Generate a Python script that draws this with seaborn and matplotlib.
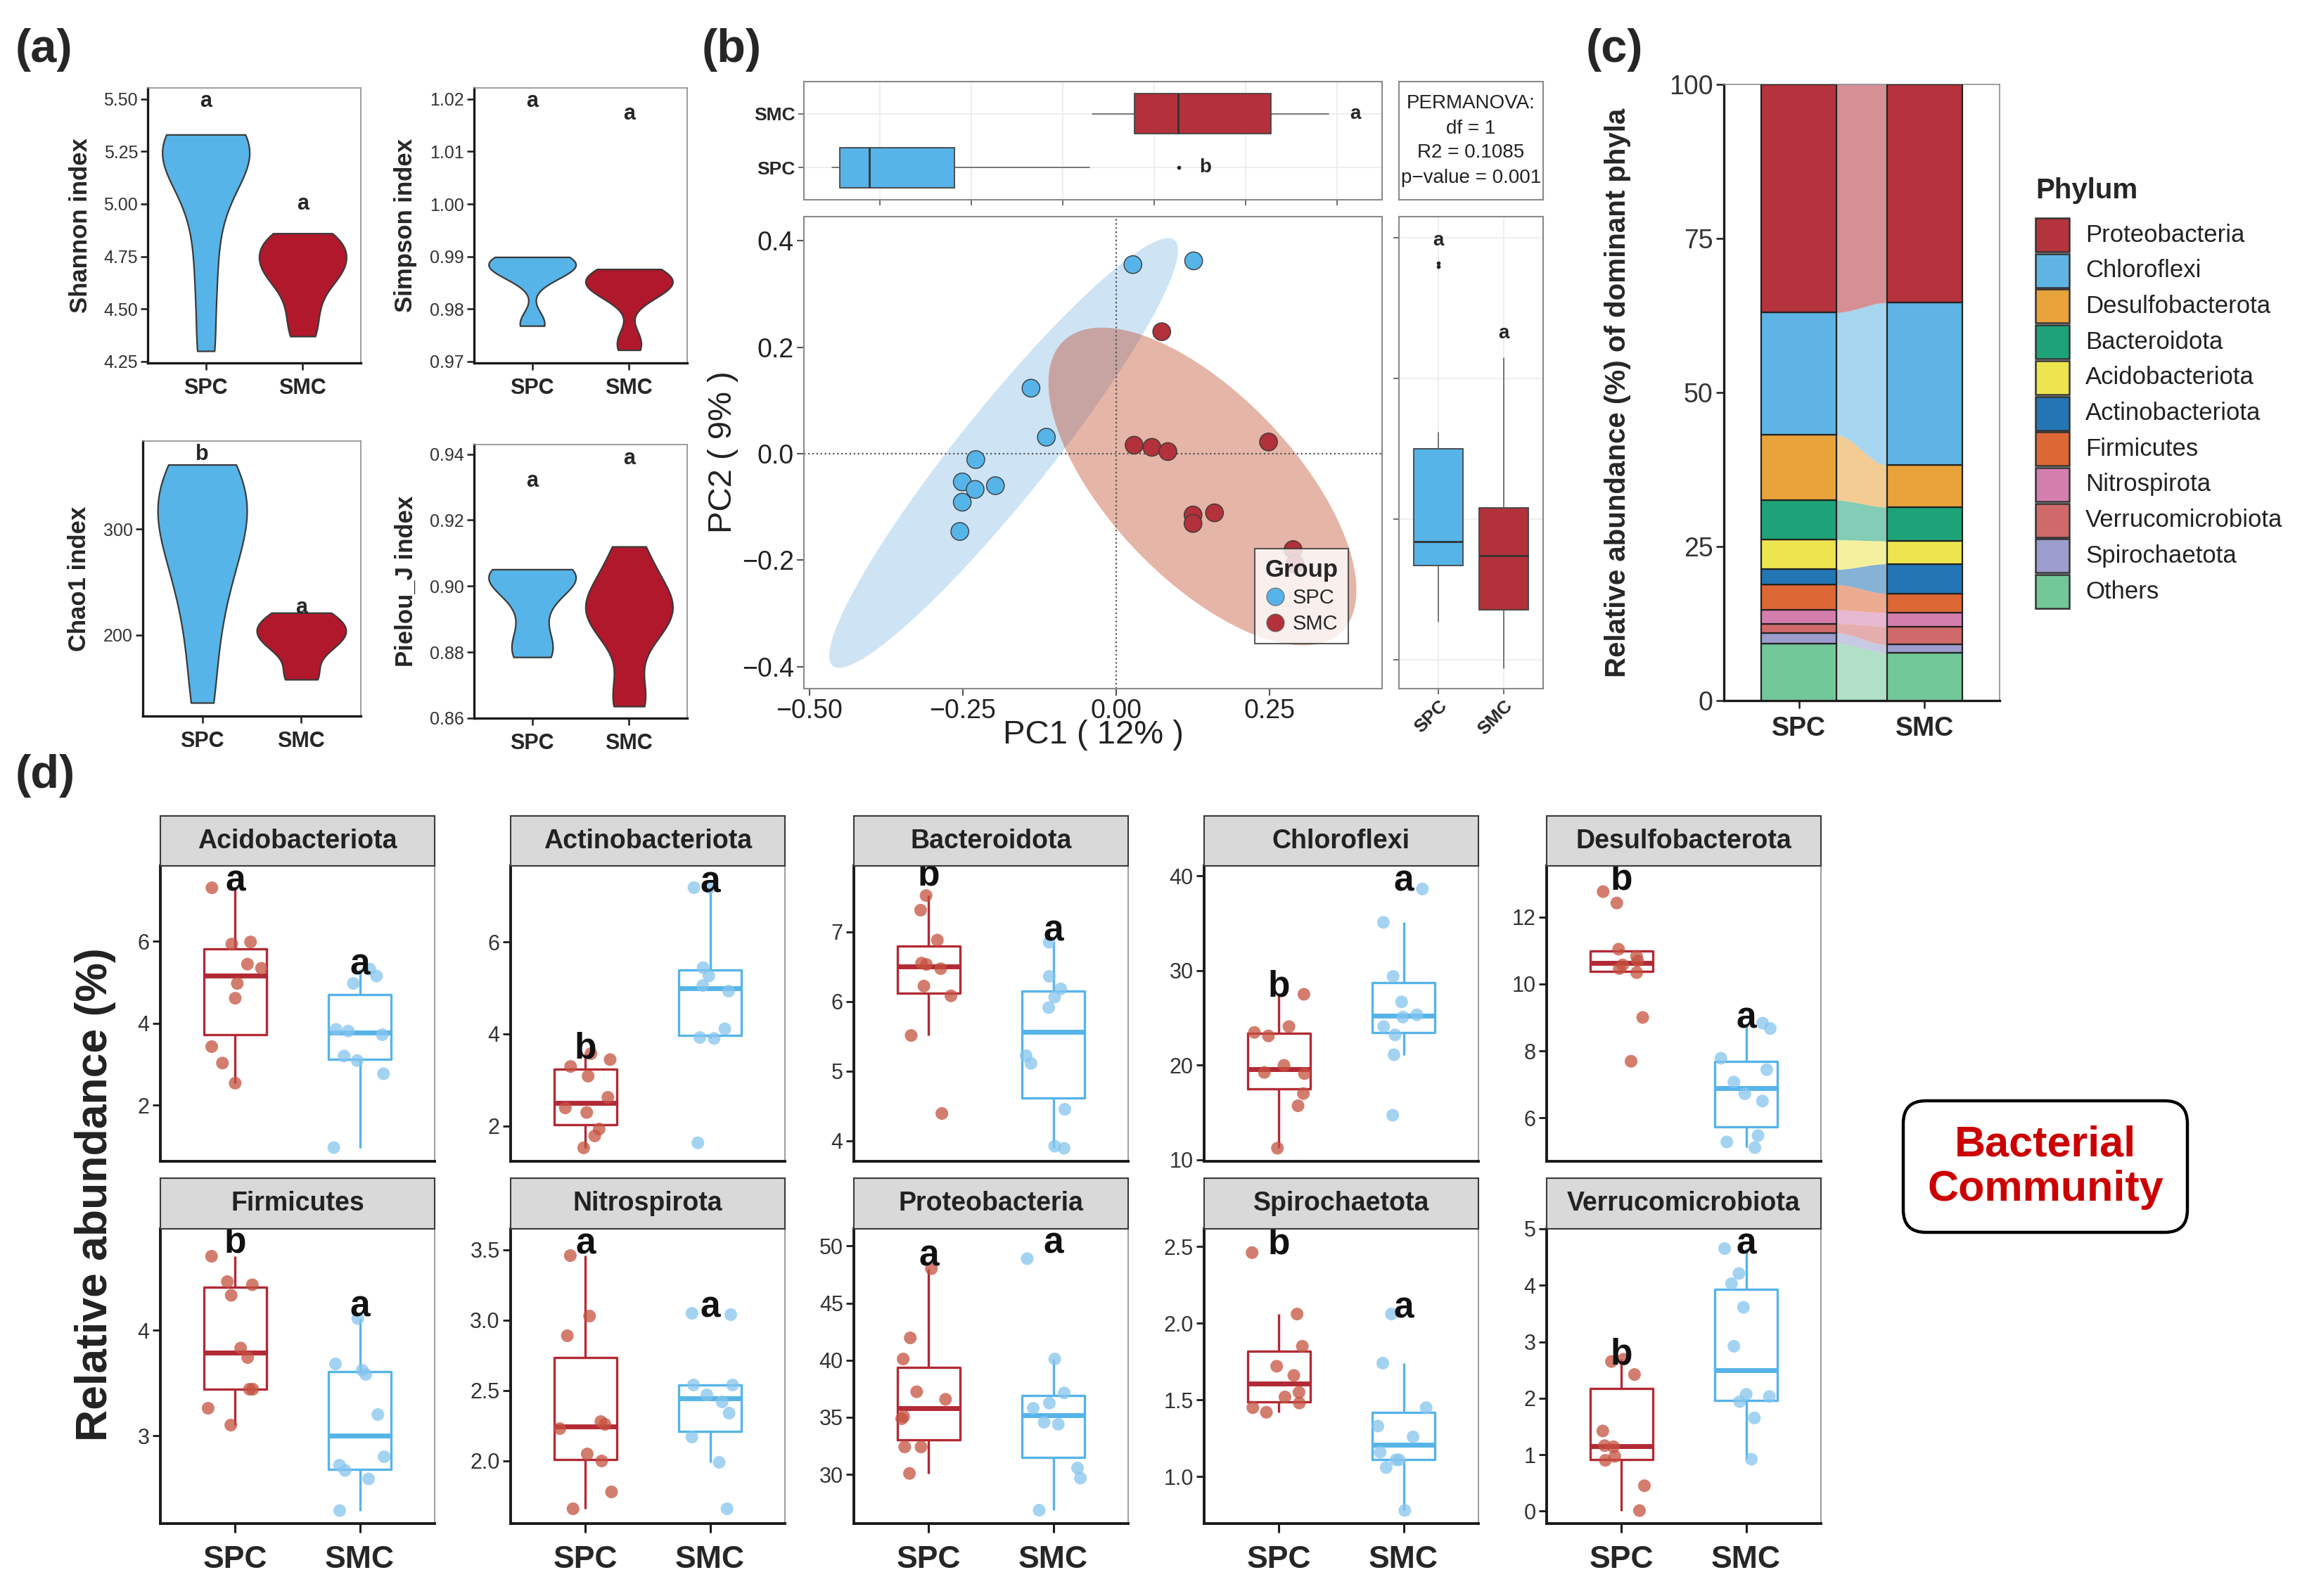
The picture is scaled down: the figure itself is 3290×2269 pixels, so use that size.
import numpy as np
import pandas as pd
import matplotlib
matplotlib.use("Agg")
import matplotlib.pyplot as plt
import seaborn as sns
from matplotlib.patches import Rectangle, FancyBboxPatch
from matplotlib.lines import Line2D

# ------------------------------------------ DATA ------------------------------------------------#
groups = ["SPC", "SMC"]

# (a) alpha diversity, one value per sample
shannon_spc = [5.33, 5.32, 5.30, 5.27, 5.22, 5.15, 5.05, 4.85, 4.60, 4.30]
shannon_smc = [4.86, 4.83, 4.80, 4.75, 4.72, 4.68, 4.65, 4.58, 4.48, 4.37]
simpson_spc = [0.9899, 0.9896, 0.9892, 0.9888, 0.9884, 0.9878, 0.9870, 0.9860, 0.9776, 0.9768]
simpson_smc = [0.9876, 0.9870, 0.9862, 0.9855, 0.9848, 0.9842, 0.9835, 0.9822, 0.9745, 0.9722]
chao1_spc = [361, 350, 338, 324, 308, 290, 268, 240, 195, 136]
chao1_smc = [221, 217, 212, 206, 201, 197, 192, 186, 163, 158]
pielou_spc = [0.9051, 0.9046, 0.9040, 0.9030, 0.9015, 0.8990, 0.8930, 0.8850, 0.8800, 0.8785]
pielou_smc = [0.9120, 0.9050, 0.8990, 0.8955, 0.8935, 0.8915, 0.8885, 0.8840, 0.8680, 0.8636]
shannon_letters = [("a", 5.489), ("a", 5.00)]
simpson_letters = [("a", 1.0195), ("a", 1.0171)]
chao1_letters = [("b", 371), ("a", 226)]
pielou_letters = [("a", 0.9318), ("a", 0.9386)]

# (b) PCoA scores
pc1_spc = [0.027, 0.126, -0.139, -0.114, -0.229, -0.251, -0.230, -0.197, -0.251, -0.255]
pc2_spc = [0.355, 0.362, 0.123, 0.031, -0.011, -0.053, -0.067, -0.060, -0.091, -0.146]
pc1_smc = [0.074, 0.029, 0.058, 0.084, 0.248, 0.125, 0.125, 0.160, 0.288, 0.291]
pc2_smc = [0.229, 0.016, 0.012, 0.004, 0.022, -0.115, -0.131, -0.111, -0.180, -0.207]
# marginal box plots (q1, median, q3, whisker low, whisker high, outliers)
top_box_spc = [-0.487, -0.422, -0.237, -0.504, 0.058, [0.254]]
top_box_smc = [0.157, 0.253, 0.455, 0.064, 0.582, []]
top_letters = [("b", 0.312), ("a", 0.640)]
side_box_spc = [-0.0658, -0.0319, 0.1003, -0.1458, 0.1234, [0.3593, 0.3640]]
side_box_smc = [-0.1288, -0.0522, 0.0163, -0.2122, 0.2292, []]
side_letters = [("a", 0.3966), ("a", 0.2644)]
permanova_text = "PERMANOVA:\ndf = 1\nR2 = 0.1085\np\u2212value = 0.001"

# (c) mean relative abundance of dominant phyla (%)
phyla = ["Proteobacteria", "Chloroflexi", "Desulfobacterota", "Bacteroidota", "Acidobacteriota",
         "Actinobacteriota", "Firmicutes", "Nitrospirota", "Verrucomicrobiota", "Spirochaetota", "Others"]
phyla_colors = ["#B5333C", "#5EB5E5", "#E8A33A", "#1EA378", "#EDE54F", "#2376B4",
                "#DD6735", "#D47EAE", "#D06A6A", "#9C9DCD", "#73C89A"]
abund_spc = [37.0, 19.9, 10.6, 6.4, 4.8, 2.5, 4.1, 2.2, 1.5, 1.7, 9.3]
abund_smc = [35.4, 26.4, 6.8, 5.5, 3.7, 4.8, 3.1, 2.3, 2.9, 1.3, 7.8]

# (d) per-sample relative abundance (%) of each phylum
acido_spc = [7.30, 5.98, 5.93, 5.44, 5.34, 4.97, 4.61, 3.43, 3.03, 2.54]
acido_smc = [5.32, 5.15, 4.97, 3.85, 3.81, 3.72, 3.20, 3.09, 2.77, 0.97]
actino_spc = [3.57, 3.44, 3.29, 3.08, 2.62, 2.39, 2.29, 1.93, 1.78, 1.52]
actino_smc = [7.18, 7.18, 5.44, 5.26, 5.05, 4.93, 4.11, 3.92, 3.90, 1.63]
bactero_spc = [7.52, 7.31, 6.88, 6.55, 6.53, 6.47, 6.22, 6.08, 5.51, 4.39]
bactero_smc = [6.85, 6.36, 6.18, 6.06, 5.91, 5.22, 5.11, 4.45, 3.92, 3.89]
chloro_spc = [27.50, 24.09, 23.47, 23.10, 19.99, 19.24, 19.12, 17.01, 15.72, 11.24]
chloro_smc = [38.63, 35.10, 29.39, 26.70, 25.33, 25.09, 24.09, 23.22, 21.11, 14.72]
desulfo_spc = [12.76, 12.42, 11.04, 10.83, 10.69, 10.57, 10.46, 10.34, 9.00, 7.69]
desulfo_smc = [8.83, 8.67, 7.78, 7.44, 7.07, 6.72, 6.50, 5.47, 5.28, 5.11]
firmi_spc = [4.70, 4.46, 4.43, 4.33, 3.83, 3.74, 3.44, 3.44, 3.26, 3.10]
firmi_smc = [4.11, 3.68, 3.62, 3.58, 3.20, 2.80, 2.72, 2.67, 2.59, 2.29]
nitro_spc = [3.46, 3.03, 2.89, 2.28, 2.26, 2.23, 2.05, 2.00, 1.78, 1.66]
nitro_smc = [3.05, 3.04, 2.54, 2.54, 2.47, 2.42, 2.34, 2.17, 1.99, 1.66]
proteo_spc = [48.01, 41.95, 40.10, 37.23, 36.57, 35.07, 34.87, 32.40, 32.40, 30.08]
proteo_smc = [48.89, 40.10, 37.13, 36.24, 35.79, 34.56, 34.39, 30.55, 29.67, 26.86]
spiro_spc = [2.46, 2.06, 1.85, 1.72, 1.66, 1.55, 1.52, 1.48, 1.45, 1.42]
spiro_smc = [2.06, 1.74, 1.45, 1.33, 1.26, 1.16, 1.11, 1.11, 1.06, 0.78]
verruco_spc = [2.69, 2.65, 2.42, 1.42, 1.16, 1.14, 0.97, 0.90, 0.45, 0.01]
verruco_smc = [4.65, 4.21, 4.03, 3.61, 2.92, 2.07, 2.03, 1.94, 1.65, 0.92]

d_names = ["Acidobacteriota", "Actinobacteriota", "Bacteroidota", "Chloroflexi", "Desulfobacterota",
           "Firmicutes", "Nitrospirota", "Proteobacteria", "Spirochaetota", "Verrucomicrobiota"]
d_letters = [[("a", 7.45), ("a", 5.41)], [("b", 3.67), ("a", 7.28)], [("b", 7.80), ("a", 7.01)],
             [("b", 28.3), ("a", 39.4)], [("b", 13.11), ("a", 8.97)], [("b", 4.83), ("a", 4.22)],
             [("a", 3.54), ("a", 3.09)], [("a", 49.1), ("a", 50.2)], [("b", 2.515), ("a", 2.095)],
             [("b", 2.775), ("a", 4.73)]]
d_ticks = [[2, 4, 6], [2, 4, 6], [4, 5, 6, 7], [10, 20, 30, 40], [6, 8, 10, 12],
           [3, 4], [2.0, 2.5, 3.0, 3.5], [30, 35, 40, 45, 50], [1.0, 1.5, 2.0, 2.5], [0, 1, 2, 3, 4, 5]]
d_ylims = [(0.636, 7.834), (1.228, 7.652), (3.703, 7.946), (9.85, 41.07), (4.70, 13.53),
           (2.167, 4.96), (1.555, 3.65), (25.69, 51.5), (0.695, 2.615), (-0.22, 5.0)]

# ------------------------------------------ STYLE ------------------------------------------------#
sns.set_style("ticks")
plt.rcParams["font.family"] = ["Liberation Sans", "DejaVu Sans"]
plt.rcParams["axes.unicode_minus"] = True

BLUE = "#56B4E9"
RED = "#B2182B"
group_pal = {"SPC": "#56B4E9", "SMC": "#B2313A"}
box_pal = {"SPC": "#B22A35", "SMC": "#56B4E9"}
point_pal = {"SPC": "#C5513F", "SMC": "#86C5EE"}

W, H = 3291, 2269
fig = plt.figure(figsize=(W / 100, H / 100), dpi=100)


def add_ax(x0, y0, x1, y1):
    return fig.add_axes([x0 / W, 1 - y1 / H, (x1 - x0) / W, (y1 - y0) / H])


def ftext(x, y, s, **kw):
    return fig.text(x / W, 1 - y / H, s, **kw)


def classic_spines(ax, lw=2.4):
    for side in ["top", "right"]:
        ax.spines[side].set_color("#8c8c8c")
        ax.spines[side].set_linewidth(1.2)
    for side in ["left", "bottom"]:
        ax.spines[side].set_color("#1a1a1a")
        ax.spines[side].set_linewidth(lw)


def bw_spines(ax):
    for sp in ax.spines.values():
        sp.set_color("#8a8a8a")
        sp.set_linewidth(1.5)


def cov_trob(xy, nu=5, maxit=25, tol=0.01):
    # robust t covariance (as used by ggplot2 stat_ellipse)
    n, p = xy.shape
    loc = xy.mean(axis=0)
    w = np.ones(n)
    X = xy - loc
    for _ in range(maxit):
        w0 = w
        X = xy - loc
        _, d, vt = np.linalg.svd(np.sqrt(w / w.sum())[:, None] * X, full_matrices=False)
        wX = X @ vt.T @ np.diag(1 / d)
        Q = (wX ** 2).sum(axis=1)
        w = (nu + p) / (nu + Q)
        loc = (w[:, None] * xy).sum(axis=0) / w.sum()
        if np.all(np.abs(w - w0) < tol):
            break
    sx = np.sqrt(w)[:, None] * X
    return loc, sx.T @ sx / n


def ellipse_points(x, y, level=0.95, seg=240):
    xy = np.column_stack([x, y])
    center, shape = cov_trob(xy)
    dfd = len(xy) - 1
    fq = dfd / 2 * ((1 - level) ** (-2 / dfd) - 1)
    radius = np.sqrt(2 * fq)
    chol = np.linalg.cholesky(shape).T
    ang = np.linspace(0, 2 * np.pi, seg)
    circ = np.column_stack([np.cos(ang), np.sin(ang)])
    return center + radius * circ @ chol


def box_stats(vals, label):
    q1, med, q3, lo, hi, fl = vals
    return {"q1": q1, "med": med, "q3": q3, "whislo": lo, "whishi": hi, "fliers": fl, "label": label}


# ------------------------------------------ (a) ------------------------------------------------#
alpha_panels = [
    ("Shannon index", shannon_spc, shannon_smc, shannon_letters, (4.243, 5.552),
     [4.25, 4.50, 4.75, 5.00, 5.25, 5.50], "{:.2f}", (210, 125, 513, 516), 115, 0.75),
    ("Simpson index", simpson_spc, simpson_smc, simpson_letters, (0.96973, 1.0221),
     [0.97, 0.98, 0.99, 1.00, 1.01, 1.02], "{:.2f}", (674, 125, 977, 516), 577, 0.75),
    ("Chao1 index", chao1_spc, chao1_smc, chao1_letters, (123.4, 383.3),
     [200, 300], "{:.0f}", (203, 627, 513, 1018), 113, 0.95),
    ("Pielou_J index", pielou_spc, pielou_smc, pielou_letters, (0.8600, 0.9429),
     [0.86, 0.88, 0.90, 0.92, 0.94], "{:.2f}", (674, 632, 977, 1021), 577, 0.8),
]
violin_pal = {"SPC": BLUE, "SMC": RED}
for name, spc, smc, letters, ylim, ticks, fmt, box, ylab_x, bwa in alpha_panels:
    ax = add_ax(*box)
    df = pd.DataFrame({"group": ["SPC"] * len(spc) + ["SMC"] * len(smc), "value": spc + smc})
    sns.violinplot(data=df, x="group", y="value", hue="group", order=groups, hue_order=groups,
                   palette=violin_pal, saturation=1, cut=0, density_norm="width", width=0.9,
                   inner=None, linewidth=1.6, linecolor="#3a3a3a", bw_adjust=bwa, legend=False, ax=ax)
    for i, (lt, ly) in enumerate(letters):
        ax.text(i, ly, lt, ha="center", va="center", fontsize=22, fontweight="bold")
    ax.set_xlim(-0.6, 1.6)
    ax.set_ylim(*ylim)
    ax.set_yticks(ticks, labels=[fmt.format(t) for t in ticks])
    ax.set_xlabel("")
    ax.set_ylabel("")
    ax.tick_params(axis="y", length=7, width=1.8, color="#1a1a1a", labelsize=18, labelcolor="#333333", pad=3)
    ax.tick_params(axis="x", length=7, width=1.8, color="#1a1a1a", labelsize=22, pad=8)
    for lbl in ax.get_xticklabels():
        lbl.set_fontweight("bold")
    classic_spines(ax)
    ftext(ylab_x, (box[1] + box[3]) / 2, name, rotation=90, ha="center", va="center",
          fontsize=25, fontweight="bold")

# ------------------------------------------ (b) ------------------------------------------------#
ax_sc = add_ax(1143, 308, 1965, 979)
el_spc = ellipse_points(pc1_spc, pc2_spc)
el_smc = ellipse_points(pc1_smc, pc2_smc)
ax_sc.fill(el_spc[:, 0], el_spc[:, 1], color="#5FA8E1", alpha=0.3, lw=0, zorder=1)
ax_sc.fill(el_smc[:, 0], el_smc[:, 1], color="#BE4623", alpha=0.4, lw=0, zorder=1)
ax_sc.axhline(0, color="#555555", ls=":", lw=1.6, zorder=2)
ax_sc.axvline(0, color="#555555", ls=":", lw=1.6, zorder=2)
pc_df = pd.DataFrame({"PC1": pc1_spc + pc1_smc, "PC2": pc2_spc + pc2_smc,
                      "Group": ["SPC"] * len(pc1_spc) + ["SMC"] * len(pc1_smc)})
sns.scatterplot(data=pc_df, x="PC1", y="PC2", hue="Group", hue_order=groups, palette=group_pal,
                s=330, edgecolor="#3a3a3a", linewidth=1.0, legend=False, ax=ax_sc, zorder=3)
ax_sc.set_xlim(-0.509, 0.433)
ax_sc.set_ylim(-0.441, 0.445)
ax_sc.set_xticks([-0.50, -0.25, 0.00, 0.25], labels=["\u22120.50", "\u22120.25", "0.00", "0.25"])
ax_sc.set_yticks([-0.4, -0.2, 0.0, 0.2, 0.4], labels=["\u22120.4", "\u22120.2", "0.0", "0.2", "0.4"])
ax_sc.tick_params(length=7, width=1.5, color="#555555", labelsize=27, labelcolor="#222222", pad=3)
ax_sc.set_xlabel("")
ax_sc.set_ylabel("")
bw_spines(ax_sc)
ftext(1554, 1045, "PC1 ( 12% )", ha="center", va="center", fontsize=34, color="#222222")
ftext(1028, 643, "PC2 ( 9% )", ha="center", va="center", rotation=90, fontsize=34, color="#222222")
leg_handles = [Line2D([], [], ls="", marker="o", markersize=18, markerfacecolor=group_pal[g],
                      markeredgecolor="#666666", markeredgewidth=0.8, label=g) for g in groups]
leg = ax_sc.legend(handles=leg_handles, title="Group", loc="lower right", bbox_to_anchor=(0.959, 0.073),
                   prop={"size": 21}, title_fontproperties={"weight": "bold", "size": 25}, frameon=True,
                   fancybox=False, edgecolor="#333333", handletextpad=0.35, borderpad=0.5,
                   labelspacing=0.3, handlelength=1.0)
leg.get_frame().set_linewidth(1.5)
leg._legend_box.align = "left"

# top marginal box (PC1)
ax_top = add_ax(1143, 116, 1965, 284)
ax_top.bxp([box_stats(top_box_spc, "SPC"), box_stats(top_box_smc, "SMC")], positions=[0, 1],
           widths=0.75, orientation="horizontal", patch_artist=True, showcaps=False,
           boxprops={"edgecolor": "#444444", "linewidth": 1.3},
           medianprops={"color": "#333333", "linewidth": 2.0},
           whiskerprops={"color": "#555555", "linewidth": 1.1},
           flierprops={"marker": "o", "markersize": 3, "markerfacecolor": "#222222", "markeredgecolor": "#222222"})
for patch, g in zip([p for p in ax_top.patches], groups):
    patch.set_facecolor(group_pal[g])
for i, (lt, lx) in enumerate(top_letters):
    ax_top.text(lx, i, lt, ha="center", va="center", fontsize=20, fontweight="bold")
ax_top.set_xlim(-0.5656, 0.6982)
ax_top.set_ylim(-0.6, 1.6)
ax_top.set_xticks([-0.4, -0.2, 0.0, 0.2, 0.4, 0.6], labels=[])
ax_top.set_yticks([0, 1], labels=groups)
for lbl in ax_top.get_yticklabels():
    lbl.set_fontweight("bold")
ax_top.tick_params(length=6, width=1.2, color="#555555", labelsize=19, pad=3)
ax_top.grid(True, color="#ebebeb", lw=1.2)
ax_top.set_axisbelow(True)
bw_spines(ax_top)

# PERMANOVA panel
ax_perm = add_ax(1989, 116, 2194, 284)
ax_perm.set_xticks([])
ax_perm.set_yticks([])
ax_perm.text(0.5, 0.5, permanova_text, ha="center", va="center", fontsize=20, linespacing=1.45,
             color="#222222", transform=ax_perm.transAxes)
bw_spines(ax_perm)

# side marginal box (PC2)
ax_side = add_ax(1989, 308, 2194, 979)
ax_side.bxp([box_stats(side_box_spc, "SPC"), box_stats(side_box_smc, "SMC")], positions=[0, 1],
            widths=0.75, patch_artist=True, showcaps=False,
            boxprops={"edgecolor": "#444444", "linewidth": 1.3},
            medianprops={"color": "#333333", "linewidth": 2.0},
            whiskerprops={"color": "#555555", "linewidth": 1.1},
            flierprops={"marker": "o", "markersize": 3, "markerfacecolor": "#222222", "markeredgecolor": "#222222"})
for patch, g in zip([p for p in ax_side.patches], groups):
    patch.set_facecolor(group_pal[g])
for i, (lt, ly) in enumerate(side_letters):
    ax_side.text(i, ly, lt, ha="center", va="center", fontsize=20, fontweight="bold")
ax_side.set_xlim(-0.6, 1.6)
ax_side.set_ylim(-0.2414, 0.4305)
ax_side.set_yticks([-0.2, 0.0, 0.2, 0.4], labels=[])
ax_side.set_xticks([0, 1])
ax_side.set_xticklabels(groups, rotation=45, ha="right", rotation_mode="anchor", fontweight="bold")
ax_side.tick_params(length=6, width=1.2, color="#555555", labelsize=19, pad=3)
ax_side.grid(True, color="#ebebeb", lw=1.2)
ax_side.set_axisbelow(True)
bw_spines(ax_side)

# ------------------------------------------ (c) ------------------------------------------------#
ax_c = add_ax(2451, 120, 2843, 996)
order_up = list(range(len(phyla)))[::-1]
bottom_spc, bottom_smc = 0.0, 0.0
bounds = {}
for k in order_up:
    bounds[k] = (bottom_spc, bottom_spc + abund_spc[k], bottom_smc, bottom_smc + abund_smc[k])
    ax_c.bar(0, abund_spc[k], bottom=bottom_spc, width=0.6, color=phyla_colors[k],
             edgecolor="#222222", linewidth=1.6, zorder=3)
    ax_c.bar(1, abund_smc[k], bottom=bottom_smc, width=0.6, color=phyla_colors[k],
             edgecolor="#222222", linewidth=1.6, zorder=3)
    bottom_spc += abund_spc[k]
    bottom_smc += abund_smc[k]
t = np.linspace(0, 1, 80)
s = t * t * (3 - 2 * t)
xs = 0.3 + 0.4 * t
for k in order_up:
    lo0, hi0, lo1, hi1 = bounds[k]
    ax_c.fill_between(xs, lo0 + (lo1 - lo0) * s, hi0 + (hi1 - hi0) * s, color=phyla_colors[k],
                      alpha=0.55, lw=0, zorder=2)
ax_c.set_xlim(-0.6, 1.6)
ax_c.set_ylim(0, 100)
ax_c.set_yticks([0, 25, 50, 75, 100])
ax_c.set_xticks([0, 1], labels=groups)
ax_c.tick_params(axis="y", length=8, width=1.8, color="#1a1a1a", labelsize=27, labelcolor="#333333", pad=3)
ax_c.tick_params(axis="x", length=8, width=1.8, color="#1a1a1a", labelsize=27, pad=8)
for lbl in ax_c.get_xticklabels():
    lbl.set_fontweight("bold")
classic_spines(ax_c)
ftext(2300, 558, "Relative abundance (%) of dominant phyla", rotation=90, ha="center", va="center",
      fontsize=29, fontweight="bold")

# phylum legend, drawn in pixel units
ax_leg = add_ax(2880, 240, 3291, 900)
ax_leg.set_xlim(2880, 3291)
ax_leg.set_ylim(900, 240)
ax_leg.axis("off")
ax_leg.text(2894, 271, "Phylum", ha="left", va="center", fontsize=29, fontweight="bold")
for k in range(len(phyla)):
    y_top = 310 + k * 50.7
    ax_leg.add_patch(Rectangle((2894, y_top), 48, 48, facecolor=phyla_colors[k],
                               edgecolor="#333333", linewidth=1.8))
    ax_leg.text(2965, y_top + 24, phyla[k], ha="left", va="center", fontsize=25, color="#222222")

# ------------------------------------------ (d) ------------------------------------------------#
d_spc = [acido_spc, actino_spc, bactero_spc, chloro_spc, desulfo_spc,
         firmi_spc, nitro_spc, proteo_spc, spiro_spc, verruco_spc]
d_smc = [acido_smc, actino_smc, bactero_smc, chloro_smc, desulfo_smc,
         firmi_smc, nitro_smc, proteo_smc, spiro_smc, verruco_smc]
d_cols = [228, 726, 1214, 1712, 2199]
d_rows = [(1160, 1231, 1651), (1675, 1747, 2166)]
np.random.seed(7)
for idx, name in enumerate(d_names):
    r, c = divmod(idx, 5)
    st, at, ab = d_rows[r]
    x0 = d_cols[c]
    ax = add_ax(x0, at, x0 + 390, ab)
    spc, smc = d_spc[idx], d_smc[idx]
    dfp = pd.DataFrame({"group": ["SPC"] * len(spc) + ["SMC"] * len(smc), "value": spc + smc})
    sns.stripplot(data=dfp, x="group", y="value", hue="group", order=groups, hue_order=groups,
                  palette=point_pal, jitter=0.22, size=13, alpha=0.75, linewidth=0,
                  legend=False, ax=ax)
    sns.boxplot(data=dfp, x="group", y="value", hue="group", order=groups, hue_order=groups,
                palette=box_pal, saturation=1, fill=False, width=0.5, showfliers=False,
                showcaps=False, linewidth=2.4, medianprops={"linewidth": 5.0}, legend=False, ax=ax)
    for i, (lt, ly) in enumerate(d_letters[idx]):
        ax.text(i, ly, lt, ha="center", va="center", fontsize=37, fontweight="bold", color="#111111")
    ax.set_xlim(-0.6, 1.6)
    ax.set_ylim(*d_ylims[idx])
    tk = d_ticks[idx]
    fmt = "{:.1f}" if any(abs(v - round(v)) > 1e-9 for v in tk) else "{:.0f}"
    ax.set_yticks(tk, labels=[fmt.format(v) for v in tk])
    ax.set_xlabel("")
    ax.set_ylabel("")
    ax.tick_params(axis="y", length=8, width=2.0, color="#1a1a1a", labelsize=22, labelcolor="#333333", pad=3)
    if r == 1:
        ax.tick_params(axis="x", length=9, width=2.2, color="#1a1a1a", labelsize=32, pad=13)
        for lbl in ax.get_xticklabels():
            lbl.set_fontweight("bold")
    else:
        ax.tick_params(axis="x", length=0, labelbottom=False)
    classic_spines(ax, lw=2.8)
    sax = add_ax(x0, st, x0 + 390, at)
    sax.set_facecolor("#d9d9d9")
    sax.set_xticks([])
    sax.set_yticks([])
    for sp in sax.spines.values():
        sp.set_color("#3a3a3a")
        sp.set_linewidth(1.5)
    sax.text(0.5, 0.5, name, ha="center", va="center", fontsize=27, fontweight="bold",
             color="#222222", transform=sax.transAxes)

ftext(136, 1698, "Relative abundance (%)", rotation=90, ha="center", va="center",
      fontsize=45, fontweight="bold", color="#222222")

# community tag
tag = FancyBboxPatch((27.06, (H - 1752) / 100), 4.04, 1.87, boxstyle="round,pad=0,rounding_size=0.32",
                     transform=fig.dpi_scale_trans, facecolor="white", edgecolor="black", linewidth=3.2)
fig.add_artist(tag)
ftext(2908, 1660, "Bacterial\nCommunity", ha="center", va="center", fontsize=44, fontweight="bold",
      color="#CC0000", linespacing=1.15)

# panel letters
for lx, ly, lt in [(22, 40, "(a)"), (998, 40, "(b)"), (2255, 40, "(c)"), (22, 1072, "(d)")]:
    ftext(lx, ly, lt, ha="left", va="top", fontsize=48, fontweight="bold")

fig.savefig("out.png", dpi=100, facecolor="white")
